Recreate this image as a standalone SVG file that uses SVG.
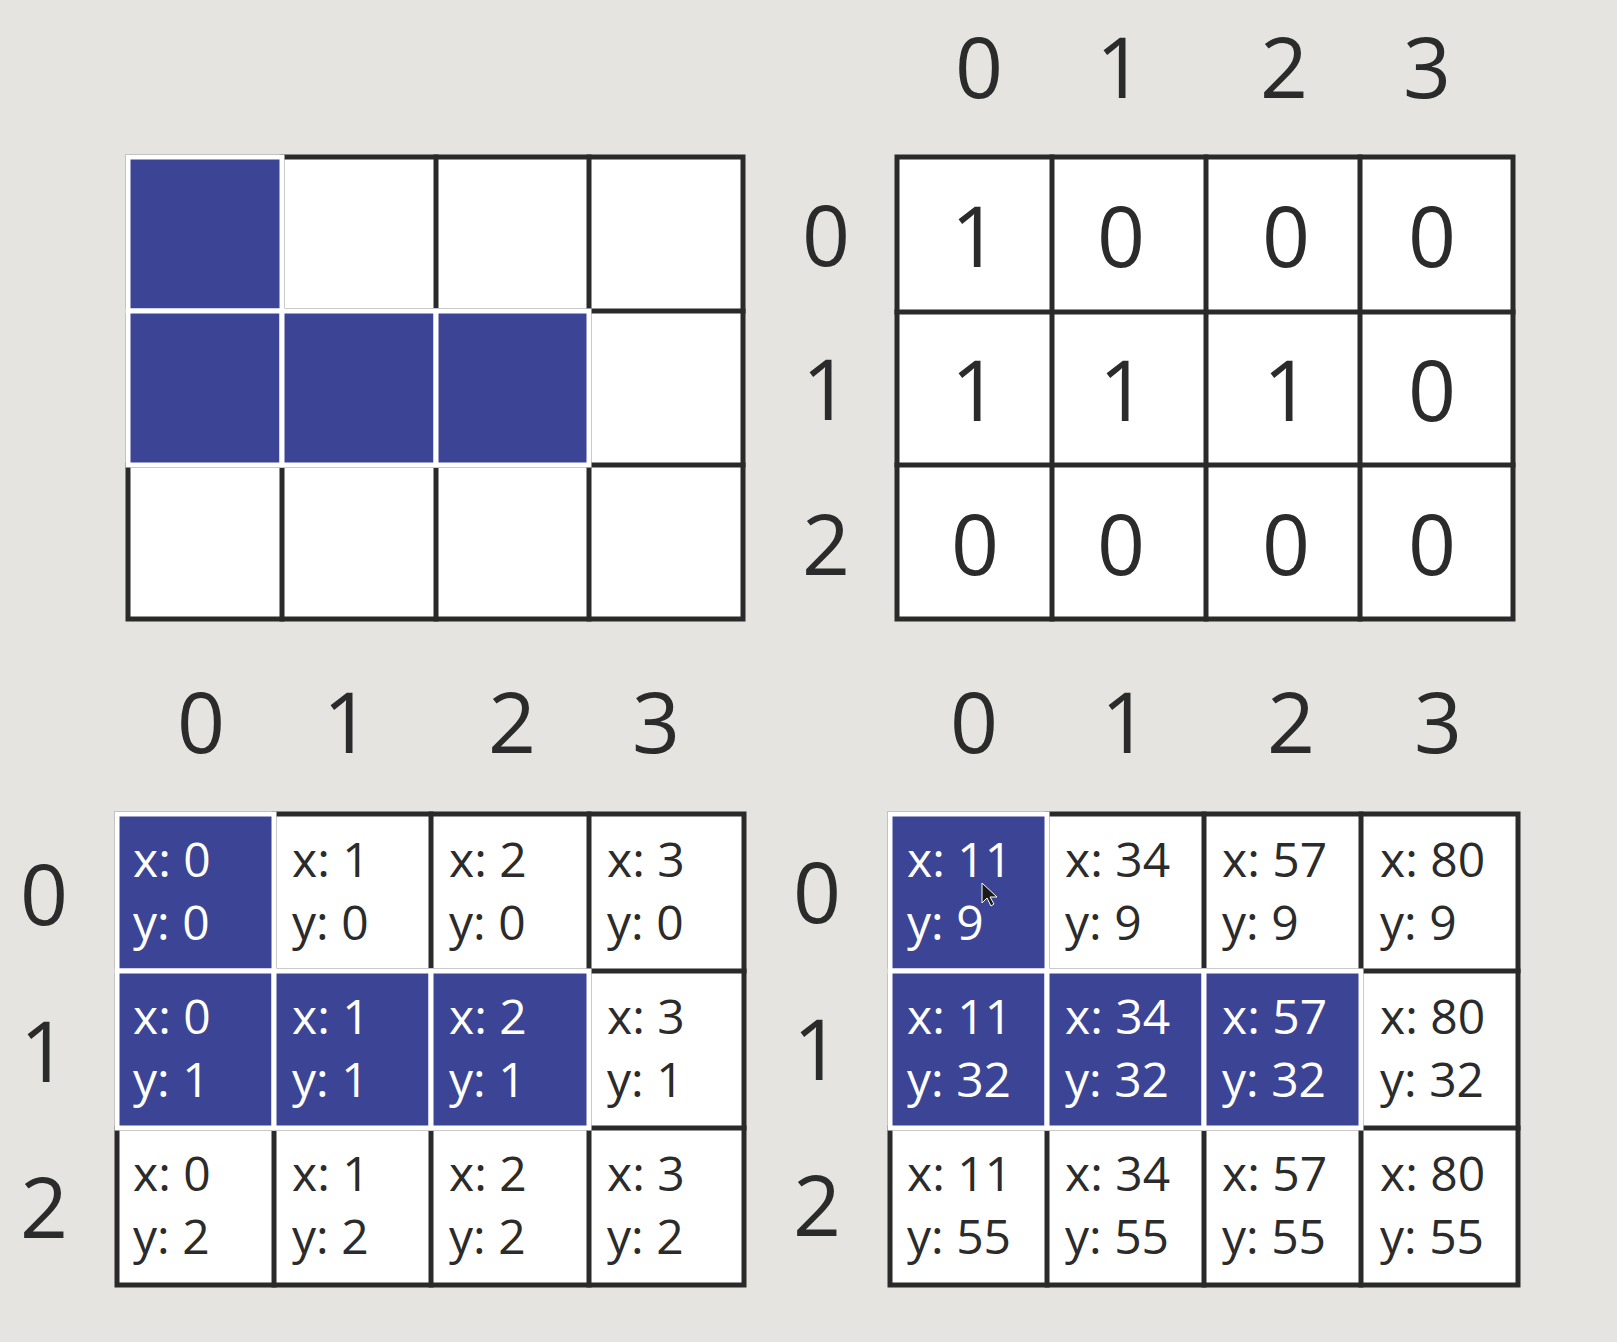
<svg xmlns="http://www.w3.org/2000/svg" width="1617" height="1342" viewBox="0 0 1617 1342">
<style>
.bg{fill:#e6e4e1}
.cellbg{fill:#ffffff}
.ln{stroke:#2a2a2a;stroke-width:5;fill:none;stroke-linecap:square}
.blue{fill:#3c4495;stroke:#ffffff;stroke-width:5}
.lbl{font-family:"Open Sans","Noto Sans","Liberation Sans",sans-serif;font-size:84px;fill:#2b2b2b;text-anchor:middle}
.ct{font-family:"Open Sans","Noto Sans","Liberation Sans",sans-serif;font-size:48px;fill:#2b2b2b}
.ctw{fill:#ffffff}
</style>
<rect class="bg" x="0" y="0" width="1617" height="1342"/>

<!-- Top-left grid -->
<g id="grid-top-left">
<rect class="cellbg" x="128" y="157" width="615" height="462"/>
<rect class="ln" x="128" y="157" width="615" height="462"/>
<path class="ln" d="M282 157V619M436 157V619M589 157V619M128 311H743M128 465H743"/>
<rect class="blue" x="128" y="157" width="154" height="154"/>
<rect class="blue" x="128" y="311" width="154" height="154"/>
<rect class="blue" x="282" y="311" width="154" height="154"/>
<rect class="blue" x="436" y="311" width="153" height="154"/>
</g>

<!-- Top-right grid -->
<g id="grid-top-right">
<rect class="cellbg" x="897" y="157" width="616" height="462"/>
<rect class="ln" x="897" y="157" width="616" height="462"/>
<path class="ln" d="M1052 157V619M1206 157V619M1360 157V619M897 312H1513M897 465H1513"/>
<g class="lbl">
<text x="979" y="98">0</text><text x="1120" y="98">1</text><text x="1284" y="98">2</text><text x="1427" y="98">3</text>
<text x="826" y="266">0</text><text x="826" y="420">1</text><text x="826" y="575">2</text>
<text x="975" y="267">1</text><text x="1121" y="267">0</text><text x="1286" y="267">0</text><text x="1432" y="267">0</text>
<text x="975" y="421">1</text><text x="1123" y="421">1</text><text x="1287" y="421">1</text><text x="1432" y="421">0</text>
<text x="975" y="575">0</text><text x="1121" y="575">0</text><text x="1286" y="575">0</text><text x="1432" y="575">0</text>
</g>
</g>

<!-- Bottom-left grid -->
<g id="grid-bottom-left">
<rect class="cellbg" x="117" y="814" width="627" height="471"/>
<rect class="ln" x="117" y="814" width="627" height="471"/>
<path class="ln" d="M274 814V1285M431 814V1285M589 814V1285M117 971H744M117 1128H744"/>
<rect class="blue" x="117" y="814" width="157" height="157"/>
<rect class="blue" x="117" y="971" width="157" height="157"/>
<rect class="blue" x="274" y="971" width="157" height="157"/>
<rect class="blue" x="431" y="971" width="158" height="157"/>
<g class="lbl">
<text x="201" y="753">0</text><text x="347" y="753">1</text><text x="512" y="753">2</text><text x="656" y="753">3</text>
<text x="44" y="925">0</text><text x="44" y="1082">1</text><text x="44" y="1238">2</text>
</g>
<g class="ct">
<text class="ctw" x="133" y="877">x: 0</text><text class="ctw" x="133" y="940">y: 0</text>
<text x="292" y="877">x: 1</text><text x="292" y="940">y: 0</text>
<text x="449" y="877">x: 2</text><text x="449" y="940">y: 0</text>
<text x="607" y="877">x: 3</text><text x="607" y="940">y: 0</text>
<text class="ctw" x="133" y="1034">x: 0</text><text class="ctw" x="133" y="1097">y: 1</text>
<text class="ctw" x="292" y="1034">x: 1</text><text class="ctw" x="292" y="1097">y: 1</text>
<text class="ctw" x="449" y="1034">x: 2</text><text class="ctw" x="449" y="1097">y: 1</text>
<text x="607" y="1034">x: 3</text><text x="607" y="1097">y: 1</text>
<text x="133" y="1191">x: 0</text><text x="133" y="1254">y: 2</text>
<text x="292" y="1191">x: 1</text><text x="292" y="1254">y: 2</text>
<text x="449" y="1191">x: 2</text><text x="449" y="1254">y: 2</text>
<text x="607" y="1191">x: 3</text><text x="607" y="1254">y: 2</text>
</g>
</g>

<!-- Bottom-right grid -->
<g id="grid-bottom-right">
<rect class="cellbg" x="890" y="814" width="628" height="471"/>
<rect class="ln" x="890" y="814" width="628" height="471"/>
<path class="ln" d="M1047 814V1285M1204 814V1285M1361 814V1285M890 971H1518M890 1128H1518"/>
<rect class="blue" x="890" y="814" width="157" height="157"/>
<rect class="blue" x="890" y="971" width="157" height="157"/>
<rect class="blue" x="1047" y="971" width="157" height="157"/>
<rect class="blue" x="1204" y="971" width="157" height="157"/>
<g class="lbl">
<text x="974" y="753">0</text><text x="1125" y="753">1</text><text x="1291" y="753">2</text><text x="1438" y="753">3</text>
<text x="817" y="923">0</text><text x="817" y="1080">1</text><text x="817" y="1236">2</text>
</g>
<g class="ct">
<text class="ctw" x="907" y="877">x: 11</text><text class="ctw" x="907" y="940">y: 9</text>
<text x="1065" y="877">x: 34</text><text x="1065" y="940">y: 9</text>
<text x="1222" y="877">x: 57</text><text x="1222" y="940">y: 9</text>
<text x="1380" y="877">x: 80</text><text x="1380" y="940">y: 9</text>
<text class="ctw" x="907" y="1034">x: 11</text><text class="ctw" x="907" y="1097">y: 32</text>
<text class="ctw" x="1065" y="1034">x: 34</text><text class="ctw" x="1065" y="1097">y: 32</text>
<text class="ctw" x="1222" y="1034">x: 57</text><text class="ctw" x="1222" y="1097">y: 32</text>
<text x="1380" y="1034">x: 80</text><text x="1380" y="1097">y: 32</text>
<text x="907" y="1191">x: 11</text><text x="907" y="1254">y: 55</text>
<text x="1065" y="1191">x: 34</text><text x="1065" y="1254">y: 55</text>
<text x="1222" y="1191">x: 57</text><text x="1222" y="1254">y: 55</text>
<text x="1380" y="1191">x: 80</text><text x="1380" y="1254">y: 55</text>
</g>
<path id="cursor" d="M982 883V903L987 898L991 906L994 904L990 897H997Z" fill="#1a1a1a" stroke="#ffffff" stroke-width="1"/>
</g>
</svg>
